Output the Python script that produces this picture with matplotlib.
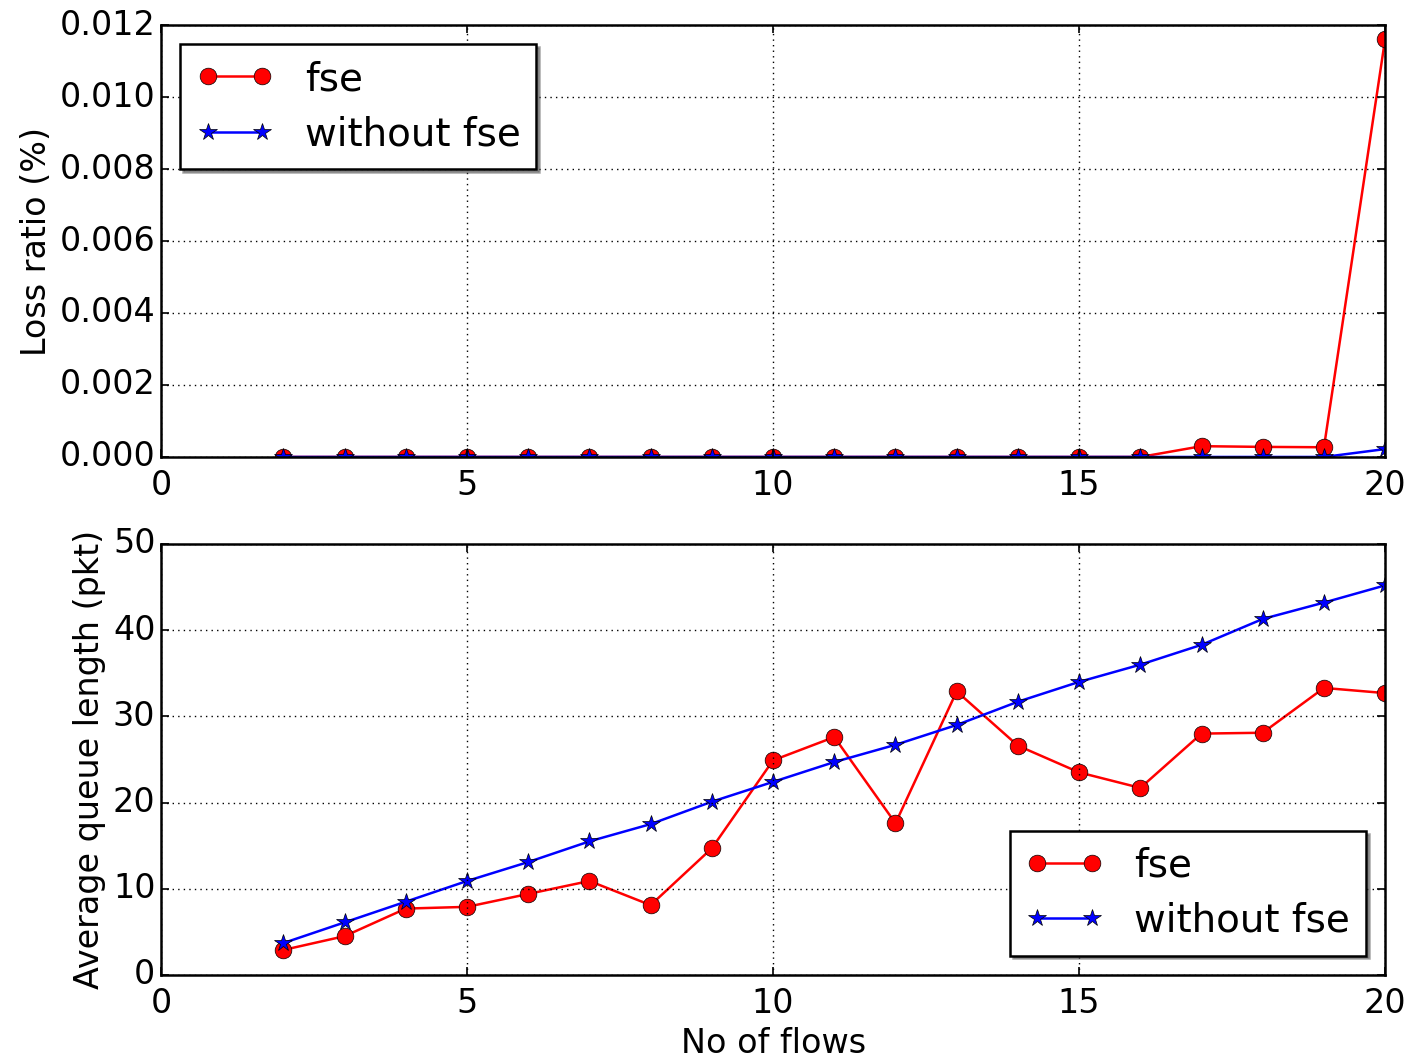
import matplotlib
matplotlib.use("Agg")
import matplotlib.pyplot as plt

flows = [2, 3, 4, 5, 6, 7, 8, 9, 10, 11, 12, 13, 14, 15, 16, 17, 18, 19, 20]
loss_fse = [0, 0, 0, 0, 0, 0, 0, 0, 0, 0, 0, 0, 0, 0, 0,
            0.00030, 0.00028, 0.00027, 0.01162]
loss_nofse = [0, 0, 0, 0, 0, 0, 0, 0, 0, 0, 0, 0, 0, 0, 0,
              0, 0, 0, 0.00022]
queue_fse = [2.9, 4.5, 7.7, 7.9, 9.4, 10.9, 8.1, 14.7, 24.9, 27.6, 17.6,
             32.9, 26.6, 23.5, 21.7, 28.0, 28.1, 33.3, 32.7]
queue_nofse = [3.7, 6.1, 8.5, 10.9, 13.1, 15.5, 17.5, 20.1, 22.4, 24.7, 26.7,
               29.0, 31.7, 34.0, 36.0, 38.3, 41.3, 43.2, 45.2]
labels = ["fse", "without fse"]

plt.style.use("classic")
plt.rcParams["font.family"] = "DejaVu Sans"
plt.rcParams["font.size"] = 24

fig = plt.figure(figsize=(14.12, 10.61), dpi=100, facecolor="white")
ax1 = fig.add_axes([0.114, 0.5693, 0.867, 0.4071])
ax2 = fig.add_axes([0.114, 0.0811, 0.867, 0.4062])

for ax in (ax1, ax2):
    for s in ax.spines.values():
        s.set_linewidth(1.8)
    ax.tick_params(labelsize=24, width=1.2, length=6)
    ax.tick_params(axis="x", pad=9)
    ax.grid(True, linestyle=":", color="black", linewidth=1.0)
    ax.set_xlim(0, 20)
    ax.set_xticks([0, 5, 10, 15, 20])

leg_kw = dict(numpoints=2, shadow=True, fontsize=28, borderpad=0.4,
              handlelength=2.0, handletextpad=0.8, labelspacing=0.45)

ax1.plot(flows, loss_fse, color="red", marker="o", markersize=12,
         linewidth=1.8, markeredgecolor="black", label=labels[0])
ax1.plot(flows, loss_nofse, color="blue", marker="*", markersize=13,
         linewidth=1.8, markeredgecolor="black", label=labels[1])
ax1.set_ylim(0, 0.012)
ax1.set_yticks([0, 0.002, 0.004, 0.006, 0.008, 0.010, 0.012])
ax1.set_yticklabels(["0.000", "0.002", "0.004", "0.006", "0.008", "0.010", "0.012"])
ax1.set_ylabel("Loss ratio (%)", fontsize=24)
leg1 = ax1.legend(loc="upper left", **leg_kw)
leg1.get_frame().set_linewidth(1.8)

ax2.plot(flows, queue_fse, color="red", marker="o", markersize=12,
         linewidth=1.8, markeredgecolor="black", label=labels[0])
ax2.plot(flows, queue_nofse, color="blue", marker="*", markersize=13,
         linewidth=1.8, markeredgecolor="black", label=labels[1])
ax2.set_ylim(0, 50)
ax2.set_yticks([0, 10, 20, 30, 40, 50])
ax2.set_ylabel("Average queue length (pkt)", fontsize=24)
ax2.set_xlabel("No of flows", fontsize=24)
leg2 = ax2.legend(loc="lower right", **leg_kw)
leg2.get_frame().set_linewidth(1.8)

fig.savefig("out.png", dpi=100, facecolor="white")
